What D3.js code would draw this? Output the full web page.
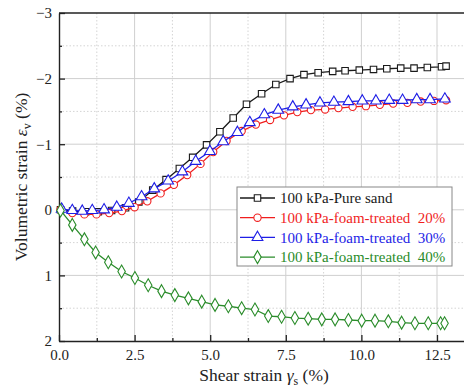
<!DOCTYPE html>
<html>
<head>
<meta charset="utf-8">
<script src="https://cdn.jsdelivr.net/npm/d3@7"></script>
<style>
  body { margin: 0; background: #fff; }
  svg { display: block; }
</style>
</head>
<body>
<div id="vizcontainer"></div>
<script>
// shear strain (%) sampled for each test
const xPure = [0.05, 0.45, 0.88, 1.3, 1.74, 2.2, 2.64, 3.1, 3.54, 3.98, 4.42, 4.88, 5.32, 5.76, 6.2, 6.7, 7.17, 7.64, 8.1, 8.57, 9.05, 9.46, 9.93, 10.4, 10.84, 11.3, 11.74, 12.18, 12.65, 12.8];
const yPure = [0, 0.02, 0.03, 0.03, 0.01, -0.03, -0.12, -0.3, -0.46, -0.63, -0.8, -0.99, -1.19, -1.4, -1.61, -1.77, -1.91, -2.0, -2.06, -2.09, -2.11, -2.12, -2.13, -2.14, -2.15, -2.16, -2.16, -2.17, -2.18, -2.19];

const x20 = [0.05, 0.44, 0.84, 1.24, 1.66, 2.08, 2.5, 2.92, 3.36, 3.8, 4.24, 4.68, 5.1, 5.54, 6.04, 6.51, 6.98, 7.44, 7.88, 8.33, 8.8, 9.24, 9.71, 10.15, 10.61, 11.05, 11.52, 11.96, 12.4, 12.8];
const y20 = [0, 0.05, 0.07, 0.07, 0.05, 0.02, -0.04, -0.13, -0.25, -0.38, -0.53, -0.7, -0.88, -1.05, -1.2, -1.3, -1.37, -1.44, -1.49, -1.52, -1.53, -1.55, -1.57, -1.58, -1.6, -1.62, -1.63, -1.65, -1.66, -1.67];

const x30 = [0.09, 0.44, 0.77, 1.1, 1.49, 1.91, 2.31, 2.73, 3.15, 3.61, 4.08, 4.52, 4.99, 5.43, 5.9, 6.31, 6.79, 7.25, 7.73, 8.17, 8.63, 9.09, 9.57, 10.03, 10.48, 10.92, 11.36, 11.83, 12.27, 12.76];
const y30 = [-0.01, 0.01, 0.02, 0.01, 0, -0.04, -0.1, -0.2, -0.32, -0.44, -0.58, -0.74, -0.89, -1.04, -1.18, -1.33, -1.45, -1.52, -1.57, -1.6, -1.63, -1.64, -1.65, -1.66, -1.66, -1.67, -1.67, -1.68, -1.68, -1.69];

const x40 = [0.05, 0.44, 0.84, 1.21, 1.63, 2.07, 2.51, 2.95, 3.39, 3.83, 4.28, 4.72, 5.16, 5.6, 6.04, 6.48, 6.92, 7.36, 7.8, 8.24, 8.69, 9.13, 9.57, 10.01, 10.45, 10.89, 11.33, 11.77, 12.21, 12.62, 12.75];
const y40 = [0.01, 0.23, 0.45, 0.65, 0.8, 0.94, 1.04, 1.15, 1.24, 1.3, 1.35, 1.4, 1.45, 1.47, 1.5, 1.52, 1.62, 1.63, 1.65, 1.66, 1.67, 1.67, 1.68, 1.69, 1.69, 1.7, 1.72, 1.73, 1.73, 1.73, 1.73];

const seriesNames = ['100 kPa-Pure sand', '100 kPa-foam-treated\u00a0 20%', '100 kPa-foam-treated\u00a0 30%', '100 kPa-foam-treated\u00a0 40%'];
const xTicks = [0, 2.5, 5, 7.5, 10, 12.5];
const yTicks = [-3, -2, -1, 0, 1, 2];

const
  width = 464,
  height = 388,
  mLeft = 59, mTop = 13, mBottom = 341,
  serif = '"Liberation Serif", monospace',
  colors = ['#1a1a1a', '#f01e1e', '#1e1ee6', '#2a8c2a'],
  shapes = [d3.symbolSquare, d3.symbolCircle, d3.symbolTriangle, d3.symbolDiamond],
  sizes = [42, 42, 50, 48];

const series = [[xPure, yPure], [x20, y20], [x30, y30], [x40, y40]]
  .map(([xs, ys], i) => ({ name: seriesNames[i], pts: xs.map((v, j) => [v, ys[j]]) }));

const svg = d3.select('#vizcontainer')
  .append('svg')
  .attr('width', width)
  .attr('height', height);

const x = d3.scaleLinear().domain([0, 13.5]).range([mLeft, mLeft + 30.24 * 13.5]);
const y = d3.scaleLinear().domain([-3, 2]).range([mTop, mBottom]);
const mRight = x.range()[1];

// grid: dotted minor, solid major
const minorX = d3.range(1.25, 13.5, 2.5), minorY = d3.range(-2.5, 2, 1);
const grid = svg.append('g');
grid.selectAll('.gmx').data(minorX).join('line')
  .attr('x1', d => x(d)).attr('x2', d => x(d)).attr('y1', mTop).attr('y2', mBottom)
  .attr('stroke', '#d4d4d4').attr('stroke-dasharray', '1.5,2');
grid.selectAll('.gmy').data(minorY).join('line')
  .attr('x1', mLeft).attr('x2', mRight).attr('y1', d => y(d)).attr('y2', d => y(d))
  .attr('stroke', '#d4d4d4').attr('stroke-dasharray', '1.5,2');
grid.selectAll('.gx').data(xTicks.slice(1)).join('line')
  .attr('x1', d => x(d)).attr('x2', d => x(d)).attr('y1', mTop).attr('y2', mBottom)
  .attr('stroke', '#cfcfcf');
grid.selectAll('.gy').data(yTicks.slice(1, -1)).join('line')
  .attr('x1', mLeft).attr('x2', mRight).attr('y1', d => y(d)).attr('y2', d => y(d))
  .attr('stroke', '#cfcfcf');

// axes
const xAxis = svg.append('g').attr('transform', `translate(0,${mBottom})`)
  .call(d3.axisBottom(x).tickValues(xTicks).tickFormat(d3.format('.1f')).tickSizeInner(-6).tickSizeOuter(0).tickPadding(8));
const xMinor = svg.append('g').attr('transform', `translate(0,${mBottom})`)
  .call(d3.axisBottom(x).tickValues(minorX).tickFormat('').tickSizeInner(-3).tickSizeOuter(0));
const yAxis = svg.append('g').attr('transform', `translate(${mLeft},0)`)
  .call(d3.axisLeft(y).tickValues(yTicks).tickFormat(d3.format('d')).tickSizeInner(-6).tickSizeOuter(0).tickPadding(7));
const yMinor = svg.append('g').attr('transform', `translate(${mLeft},0)`)
  .call(d3.axisLeft(y).tickValues(minorY).tickFormat('').tickSizeInner(-3).tickSizeOuter(0));

svg.selectAll('.domain').attr('stroke', '#222').attr('stroke-width', 1.4);
svg.selectAll('.tick line').attr('stroke', '#222').attr('stroke-width', 1.3);
svg.selectAll('.tick text').attr('font-size', 15).attr('fill', '#222');
xMinor.select('.domain').remove();
yMinor.select('.domain').remove();

svg.append('line')
  .attr('x1', mLeft).attr('x2', mRight).attr('y1', mTop).attr('y2', mTop)
  .attr('stroke', '#222').attr('stroke-width', 1.4);

// series
const line = d3.line().x(d => x(d[0])).y(d => y(d[1]));
series.forEach((s, i) => {
  const g = svg.append('g');
  g.append('path').datum(s.pts)
    .attr('d', line).attr('fill', 'none')
    .attr('stroke', colors[i]).attr('stroke-width', 1.3);
  g.selectAll('path.m').data(s.pts).join('path')
    .attr('class', 'm')
    .attr('transform', d => `translate(${x(d[0])},${y(d[1])})`)
    .attr('d', d3.symbol().type(shapes[i]).size(sizes[i]))
    .attr('fill', 'white').attr('stroke', colors[i]).attr('stroke-width', 1.1);
});

// legend
const lg = svg.append('g').attr('transform', 'translate(237,187)');
lg.append('rect').attr('width', 215).attr('height', 79)
  .attr('fill', 'white').attr('stroke', '#888').attr('stroke-width', 1);
const rows = lg.selectAll('g.row').data(seriesNames).join('g')
  .attr('class', 'row')
  .attr('transform', (d, i) => `translate(0,${11 + i * 19.7})`);
rows.append('line').attr('x1', 3).attr('x2', 38)
  .attr('stroke', (d, i) => colors[i]).attr('stroke-width', 1.3);
rows.append('path')
  .attr('transform', 'translate(20.5,0)')
  .attr('d', (d, i) => d3.symbol().type(shapes[i]).size(sizes[i])())
  .attr('fill', 'white').attr('stroke', (d, i) => colors[i]).attr('stroke-width', 1.1);
rows.append('text').attr('x', 43).attr('dy', '0.35em')
  .attr('font-size', 15).attr('fill', (d, i) => colors[i])
  .text(d => d);

// axis titles
const xt = svg.append('text')
  .attr('x', 264).attr('y', 381).attr('text-anchor', 'middle')
  .attr('font-size', 17.5).attr('fill', '#222');
xt.append('tspan').text('Shear strain ');
xt.append('tspan').attr('font-style', 'italic').text('γ');
xt.append('tspan').attr('font-size', 12).attr('dy', 4).text('s');
xt.append('tspan').attr('dy', -4).text(' (%)');

const yt = svg.append('text')
  .attr('transform', 'translate(27,177) rotate(-90)').attr('text-anchor', 'middle')
  .attr('font-size', 17.5).attr('fill', '#222');
yt.append('tspan').text('Volumetric strain ');
yt.append('tspan').attr('font-style', 'italic').text('ε');
yt.append('tspan').attr('font-size', 12).attr('dy', 4).text('v');
yt.append('tspan').attr('dy', -4).text(' (%)');

svg.selectAll('text').style('font-family', serif);
</script>
</body>
</html>
